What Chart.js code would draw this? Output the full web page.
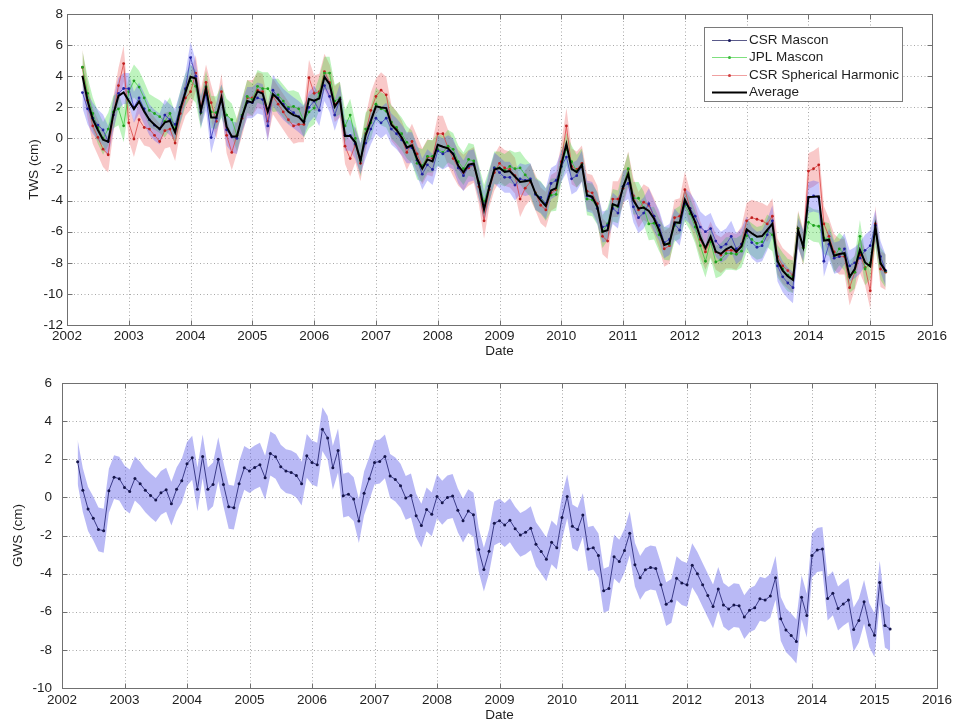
<!DOCTYPE html>
<html>
<head>
<meta charset="utf-8">
<title>TWS and GWS anomalies</title>
<script src="https://cdn.jsdelivr.net/npm/chart.js@4.4.1/dist/chart.umd.min.js"></script>
<style>
  html, body { margin: 0; padding: 0; background: #fff; }
  #wrap { position: relative; width: 960px; height: 726px; }
  canvas { position: absolute; left: 0; }
  #tws { top: 0; }
  #gws { top: 360px; }
</style>
</head>
<body>
<div id="wrap">
  <canvas id="tws" width="960" height="360"></canvas>
  <canvas id="gws" width="960" height="366"></canvas>
</div>
<script>
// Monthly series, April 2002 – April 2015
const START_YEAR = 2002;
const START_MONTH = 4;

const yearTicks = [2002, 2003, 2004, 2005, 2006, 2007, 2008, 2009, 2010, 2011, 2012, 2013, 2014, 2015, 2016];
const twsTicks = [-12, -10, -8, -6, -4, -2, 0, 2, 4, 6, 8];
const gwsTicks = [-10, -8, -6, -4, -2, 0, 2, 4, 6];

// Terrestrial water storage anomalies (cm)
const csrMascon = [
  2.95, 1.9, 1.3, 0.86, 0.54, -0.2, 1.5, 2.9, 3.21,
  3.2, 2.0, 2.6, 1.9, 1.2, 0.85, 0.6, 1.5, 1.2, 0.9, 2.0, 3.2,
  5.2, 4.0, 1.7, 2.8, 0.05, 1.3, 2.5, 0.55, 0.1, 0.0, 1.4, 2.3,
  2.3, 2.6, 2.5, 0.8, 3.1, 2.6, 2.2, 1.9, 1.65, 1.4, 1.1, 2.0,
  2.4, 1.8, 3.4, 2.7, 1.5, 2.5, 0.2, 0.2, -0.35, -1.3, -0.3, 0.6,
  1.3, 1.0, 1.3, 0.6, 0.3, -0.1, -0.6, -0.6, -1.4, -2.3, -1.7, -2.0,
  -0.8, -1.0, -0.8, -1.0, -1.9, -2.4, -1.8, -1.7, -2.9, -4.4, -3.1, -1.9,
  -2.2, -2.5, -2.5, -3.0, -2.6, -2.7, -2.6, -3.6, -3.8, -4.2, -2.9, -2.7,
  -1.8, -1.2, -2.6, -2.4, -1.8, -3.7, -3.8, -4.5, -5.7, -5.6, -4.5, -4.8,
  -3.1, -2.9, -4.4, -5.1, -4.8, -4.2, -5.0, -5.6, -6.7, -6.5, -5.5, -5.9,
  -4.2, -4.5, -5.0, -5.7, -6.0, -5.8, -6.6, -7.0, -6.8, -6.3, -7.1, -6.8,
  -6.0, -6.7, -7.0, -6.9, -6.2, -5.3, -8.2, -8.9, -9.3, -9.6, -6.1, -6.9,
  -3.8, -3.7, -3.8, -7.9, -6.8, -7.7, -7.6, -7.1, -8.2, -8.0, -7.7, -7.2,
  -6.9, -5.6, -7.6, -8.5
];
const jplMascon = [
  4.58, 2.9, 1.6, 0.7, 0.0, 0.6, 1.7, 1.9, 0.81,
  3.0, 3.7, 3.3, 2.6, 1.8, 1.6, 1.4, 1.1, 1.6, 0.6, 2.0, 3.1,
  3.7, 3.35, 1.65, 3.3, 1.7, 1.65, 2.4, 1.5, 1.2, 0.2, 1.5, 2.7,
  2.5, 3.35, 3.2, 3.2, 2.75, 2.8, 2.4, 2.0, 2.05, 1.9, 1.1, 1.7,
  1.95, 2.9, 4.2, 4.2, 2.4, 2.6, 0.8, 1.5, 0.0, -1.4, 0.6, 1.0,
  2.2, 1.9, 1.75, 1.05, 0.7, 0.3, -0.25, -0.55, -1.6, -1.75, -1.15, -1.15,
  -0.7, -0.9, -0.5, -0.7, -1.5, -1.95, -1.35, -1.45, -2.8, -4.05, -3.05, -1.9,
  -1.9, -2.05, -1.8, -1.95, -1.9, -2.35, -2.7, -3.55, -3.8, -4.25, -3.65, -3.6,
  -1.8, -0.7, -1.5, -2.1, -1.7, -3.9, -3.95, -4.5, -6.0, -5.5, -4.3, -4.4,
  -3.1, -1.95, -3.85, -3.85, -4.45, -5.5, -5.45, -6.2, -6.75, -6.8, -5.6, -5.4,
  -4.3, -4.85, -5.7, -6.9, -7.9, -6.65, -7.95, -7.8, -7.4, -7.4, -7.45, -7.25,
  -6.25, -6.5, -6.75, -6.65, -5.95, -6.2, -7.9, -8.4, -8.8, -8.9, -5.8, -7.05,
  -5.4, -5.6, -5.65, -6.4, -6.5, -7.6, -7.1, -7.45, -8.9, -8.6, -6.3, -8.4,
  -8.0, -5.95, -8.05, -8.55
];
const csrSpherical = [
  4.56, 2.45, 0.8, 0.06, -0.69, -1.05, 1.5, 3.4, 4.81,
  1.0, -0.04, 1.2, 0.7, 0.6, 0.2, -0.2, 0.5, 0.6, -0.3, 1.6, 2.6,
  3.0, 4.2, 2.0, 3.6, 2.3, 1.1, 3.0, 0.2, -0.9, 0.2, 1.3, 2.6,
  2.6, 3.1, 3.0, 1.1, 2.7, 2.2, 1.7, 1.2, 0.8, 0.9, 0.9, 3.9,
  2.9, 3.0, 4.3, 3.6, 2.2, 2.5, -0.5, -1.3, -0.4, -1.6, 0.3, 1.8,
  2.7, 3.1, 2.8, 1.0, 0.6, 0.0, -0.9, -0.2, -1.0, -1.8, -1.2, -1.3,
  0.3, 0.3, -0.6, -1.3, -1.9, -2.2, -1.9, -1.7, -3.1, -5.3, -3.3, -2.2,
  -1.6, -1.9, -2.0, -2.4, -3.9, -3.2, -2.8, -3.5, -4.3, -4.6, -3.5, -3.3,
  -1.5, 0.8, -1.8, -2.0, -1.6, -3.4, -3.5, -4.2, -6.3, -6.6, -3.9, -3.9,
  -3.2, -2.0, -3.7, -4.6, -4.1, -4.3, -5.0, -5.9, -7.1, -6.9, -5.1, -5.0,
  -3.3, -4.5, -5.4, -6.5, -7.3, -6.5, -7.3, -7.5, -7.2, -7.2, -7.3, -6.8,
  -5.3, -5.1, -5.2, -5.3, -5.5, -5.0, -7.6, -8.2, -8.5, -8.8, -5.8, -7.0,
  -2.1, -1.95, -1.7, -5.5, -6.3, -7.3, -7.6, -7.6, -9.6, -8.6, -7.5, -8.3,
  -9.8, -5.5, -8.4, -8.6
];
const twsAverage = [
  4.03, 2.42, 1.24, 0.54, -0.09, -0.21, 1.56, 2.74, 2.96,
  2.42, 1.88, 2.38, 1.73, 1.20, 0.88, 0.60, 1.03, 1.13, 0.39, 1.88, 2.96,
  3.96, 3.85, 1.78, 3.23, 1.35, 1.35, 2.63, 0.75, 0.13, 0.13, 1.39, 2.40,
  2.30, 3.02, 2.89, 1.71, 2.85, 2.53, 2.10, 1.71, 1.50, 1.39, 1.03, 2.53,
  2.42, 2.57, 3.96, 3.49, 2.03, 2.53, 0.15, 0.15, -0.25, -1.43, 0.20, 1.13,
  2.06, 1.99, 1.95, 0.88, 0.54, 0.06, -0.58, -0.45, -1.33, -1.95, -1.35, -1.48,
  -0.41, -0.54, -0.64, -1.00, -1.76, -2.18, -1.69, -1.61, -2.93, -4.58, -3.15, -2.00,
  -1.90, -2.15, -2.10, -2.45, -2.80, -2.75, -2.70, -3.55, -3.97, -4.35, -3.35, -3.20,
  -1.70, -0.36, -1.96, -2.17, -1.70, -3.66, -3.75, -4.40, -6.00, -5.90, -4.23, -4.36,
  -3.13, -2.28, -3.98, -4.51, -4.45, -4.66, -5.15, -5.90, -6.85, -6.74, -5.40, -5.43,
  -3.94, -4.62, -5.36, -6.36, -7.06, -6.32, -7.28, -7.43, -7.13, -6.96, -7.28, -6.95,
  -5.85, -6.10, -6.32, -6.28, -5.88, -5.50, -7.90, -8.50, -8.87, -9.10, -5.90, -6.98,
  -3.77, -3.75, -3.72, -6.57, -6.53, -7.55, -7.43, -7.38, -8.91, -8.40, -7.17, -7.98,
  -8.23, -5.68, -8.02, -8.55
];

// Groundwater storage anomaly (cm)
const gwsValues = [
  1.87, 0.38, -0.61, -1.10, -1.68, -1.75, 0.35, 1.06, 0.98,
  0.52, 0.31, 0.99, 0.72, 0.37, 0.10, -0.14, 0.24, 0.40, -0.33, 0.42, 0.87,
  1.76, 2.08, 0.42, 2.15, 0.42, 0.68, 2.00, 0.68, -0.49, -0.54, 0.72, 1.55,
  1.38, 1.57, 1.71, 1.03, 2.30, 2.13, 1.61, 1.38, 1.31, 1.15, 0.72, 2.18,
  1.83, 1.71, 3.58, 3.12, 1.55, 2.46, 0.09, 0.17, -0.09, -1.24, 0.21, 0.98,
  1.83, 1.88, 2.15, 1.12, 0.94, 0.61, -0.03, 0.10, -0.96, -1.48, -0.63, -0.89,
  0.05, -0.28, 0.00, 0.07, -0.68, -1.22, -0.72, -0.91, -2.74, -3.79, -2.83, -1.36,
  -1.22, -1.45, -1.20, -1.64, -1.97, -1.83, -1.62, -2.46, -2.84, -3.25, -2.36, -2.64,
  -1.06, 0.05, -1.52, -1.69, -0.93, -2.71, -2.64, -3.05, -4.90, -4.78, -3.11, -3.37,
  -2.79, -1.88, -3.53, -4.22, -3.80, -3.68, -3.73, -4.59, -5.60, -5.43, -4.24, -4.49,
  -4.59, -3.56, -4.01, -4.59, -5.15, -5.72, -4.80, -5.64, -5.85, -5.65, -5.69, -6.28,
  -5.92, -5.79, -5.32, -5.39, -5.17, -4.22, -6.37, -6.96, -7.24, -7.56, -5.24, -6.20,
  -3.05, -2.76, -2.71, -5.31, -5.03, -5.83, -5.59, -5.39, -6.93, -6.46, -5.48, -6.70,
  -7.23, -4.47, -6.72, -6.91
];

// One-sigma uncertainty of each product (cm)
const csrMasconSigma = 1.0;
const jplMasconSigma = 1.05;
const csrSphericalSigma = 1.15;
const gwsSigma = 1.15;

const FONT = '"Liberation Sans", Arial, Helvetica, sans-serif';
const TEXT = '#1e1e1e';

const monthPos = i => START_YEAR + (START_MONTH - 1 + i) / 12;
const toPoints = (arr, shift) => arr.map((v, i) => ({ x: monthPos(i), y: v + (shift || 0) }));

// Dotted grid behind the data, box with inward ticks on top
const frame = {
  id: 'frame',
  beforeDatasetsDraw(chart, args, opts) {
    const { ctx, chartArea: a, scales: { x, y } } = chart;
    ctx.save();
    ctx.strokeStyle = '#a8a8a8';
    ctx.lineWidth = 1;
    ctx.setLineDash([1, 2.5]);
    opts.xValues.forEach(v => {
      const px = Math.round(x.getPixelForValue(v)) + 0.5;
      if (px <= a.left + 1 || px >= a.right - 1) return;
      ctx.beginPath(); ctx.moveTo(px, a.top); ctx.lineTo(px, a.bottom); ctx.stroke();
    });
    opts.yValues.forEach(v => {
      const py = Math.round(y.getPixelForValue(v)) + 0.5;
      if (py <= a.top + 1 || py >= a.bottom - 1) return;
      ctx.beginPath(); ctx.moveTo(a.left, py); ctx.lineTo(a.right, py); ctx.stroke();
    });
    ctx.restore();
  },
  afterDatasetsDraw(chart, args, opts) {
    const { ctx, chartArea: a, scales: { x, y } } = chart;
    const L = Math.round(a.left) + 0.5, R = Math.round(a.right) + 0.5;
    const T = Math.round(a.top) + 0.5, B = Math.round(a.bottom) + 0.5;
    ctx.save();
    ctx.strokeStyle = '#707070';
    ctx.lineWidth = 1;
    ctx.setLineDash([]);
    ctx.strokeRect(L, T, R - L, B - T);
    const tl = 5;
    ctx.beginPath();
    opts.xValues.forEach(v => {
      const px = Math.round(x.getPixelForValue(v)) + 0.5;
      ctx.moveTo(px, B); ctx.lineTo(px, B - tl);
      ctx.moveTo(px, T); ctx.lineTo(px, T + tl);
    });
    opts.yValues.forEach(v => {
      const py = Math.round(y.getPixelForValue(v)) + 0.5;
      ctx.moveTo(L, py); ctx.lineTo(L + tl, py);
      ctx.moveTo(R, py); ctx.lineTo(R - tl, py);
    });
    ctx.stroke();
    ctx.restore();
  }
};

// Boxed legend in the upper right of the TWS panel
const boxLegend = {
  id: 'boxLegend',
  afterDraw(chart, args, opts) {
    if (!opts.items) return;
    const { ctx } = chart;
    const b = opts.box;
    ctx.save();
    ctx.fillStyle = '#fff';
    ctx.fillRect(b.left, b.top, b.width, b.height);
    ctx.strokeStyle = '#7a7a7a';
    ctx.lineWidth = 1;
    ctx.strokeRect(b.left + 0.5, b.top + 0.5, b.width, b.height);
    ctx.font = '13.5px ' + FONT;
    ctx.textBaseline = 'middle';
    ctx.textAlign = 'left';
    opts.items.forEach((it, k) => {
      const yy = Math.round(b.top + 12.5 + k * 17.5) + 0.5;
      ctx.strokeStyle = it.color;
      ctx.lineWidth = it.width;
      ctx.beginPath(); ctx.moveTo(b.left + 8, yy); ctx.lineTo(b.left + 43, yy); ctx.stroke();
      if (it.dot) {
        ctx.fillStyle = it.dot;
        ctx.beginPath(); ctx.arc(b.left + 25.5, yy, 1.5, 0, Math.PI * 2); ctx.fill();
      }
      ctx.fillStyle = TEXT;
      ctx.fillText(it.label, b.left + 45, yy);
    });
    ctx.restore();
  }
};

function axes(opts) {
  return {
    x: {
      type: 'linear', min: 2002, max: 2016,
      afterBuildTicks: s => { s.ticks = yearTicks.map(v => ({ value: v })); },
      afterFit: s => { s.height = opts.xHeight; },
      grid: { display: false, drawTicks: false },
      border: { display: false },
      ticks: {
        autoSkip: false, maxRotation: 0, padding: opts.xPad, color: TEXT,
        font: { family: FONT, size: 13.5 },
        callback: v => String(v)
      },
      title: {
        display: true, text: 'Date', color: TEXT,
        font: { family: FONT, size: 13.5 },
        padding: { top: 0, bottom: opts.datePad }
      }
    },
    y: {
      type: 'linear', min: opts.yMin, max: opts.yMax,
      afterBuildTicks: s => { s.ticks = opts.yTicks.map(v => ({ value: v })); },
      afterFit: s => { s.width = opts.yWidth; },
      grid: { display: false, drawTicks: false },
      border: { display: false },
      ticks: {
        padding: opts.yPad, color: TEXT,
        font: { family: FONT, size: 13.5 },
        callback: v => String(v)
      },
      title: {
        display: true, text: opts.yTitle, color: TEXT,
        font: { family: FONT, size: 13.5 },
        padding: { top: opts.titlePad, bottom: 0 }
      }
    }
  };
}

function bandPair(values, sigma, color) {
  return [
    { data: toPoints(values, sigma), fill: '+1', backgroundColor: color,
      borderColor: 'transparent', borderWidth: 0, pointRadius: 0, order: 10 },
    { data: toPoints(values, -sigma), fill: false,
      borderColor: 'transparent', borderWidth: 0, pointRadius: 0, order: 10 }
  ];
}

function seriesLine(values, line, dot, order) {
  return {
    data: toPoints(values), fill: false, borderColor: line, borderWidth: 1,
    pointRadius: 1.4, pointBackgroundColor: dot, pointBorderWidth: 0, order: order
  };
}

const common = {
  type: 'line',
  options: {
    responsive: false, animation: false, devicePixelRatio: 1,
    events: [],
    elements: { line: { tension: 0 } },
    plugins: { legend: { display: false }, tooltip: { enabled: false } }
  }
};

// Terrestrial water storage panel
new Chart(document.getElementById('tws'), {
  type: 'line',
  data: {
    datasets: [
      ...bandPair(csrMascon, csrMasconSigma, 'rgba(85, 85, 245, 0.33)'),
      ...bandPair(jplMascon, jplMasconSigma, 'rgba(40, 215, 40, 0.30)'),
      ...bandPair(csrSpherical, csrSphericalSigma, 'rgba(235, 75, 75, 0.30)'),
      seriesLine(csrMascon, 'rgba(60, 60, 190, 0.8)', '#2020a0', 3),
      seriesLine(jplMascon, 'rgba(60, 200, 60, 0.8)', '#20a020', 3),
      seriesLine(csrSpherical, 'rgba(220, 70, 70, 0.8)', '#c02020', 3),
      { data: toPoints(twsAverage), fill: false, borderColor: '#000', borderWidth: 2,
        pointRadius: 0, order: 0 }
    ]
  },
  options: {
    ...common.options,
    layout: { padding: { left: 0, right: 28, top: 14, bottom: 0 } },
    scales: axes({ yMin: -12, yMax: 8, yTicks: twsTicks, yTitle: 'TWS (cm)',
                   xHeight: 35, yWidth: 67, xPad: 3, yPad: 4, titlePad: 26, datePad: 1 }),
    plugins: {
      ...common.options.plugins,
      frame: { xValues: yearTicks, yValues: twsTicks },
      boxLegend: {
        box: { left: 704, top: 27, width: 198, height: 74 },
        items: [
          { label: 'CSR Mascon', color: '#5a5a8a', width: 1, dot: '#1a1a60' },
          { label: 'JPL Mascon', color: '#7ee07e', width: 1, dot: '#3cb83c' },
          { label: 'CSR Spherical Harmonic', color: '#f0a0a0', width: 1, dot: '#d04040' },
          { label: 'Average', color: '#000', width: 2 }
        ]
      }
    }
  },
  plugins: [frame, boxLegend]
});

// Groundwater storage panel
new Chart(document.getElementById('gws'), {
  type: 'line',
  data: {
    datasets: [
      ...bandPair(gwsValues, gwsSigma, 'rgba(100, 100, 232, 0.45)'),
      { data: toPoints(gwsValues), fill: false, borderColor: '#3a3a88', borderWidth: 1,
        pointRadius: 1.5, pointBackgroundColor: '#15154a', pointBorderWidth: 0, order: 0 }
    ]
  },
  options: {
    ...common.options,
    layout: { padding: { left: 0, right: 23, top: 23, bottom: 0 } },
    scales: axes({ yMin: -10, yMax: 6, yTicks: gwsTicks, yTitle: 'GWS (cm)',
                   xHeight: 38, yWidth: 62, xPad: 4, yPad: 10, titlePad: 10, datePad: 3 }),
    plugins: {
      ...common.options.plugins,
      frame: { xValues: yearTicks, yValues: gwsTicks }
    }
  },
  plugins: [frame]
});
</script>
</body>
</html>
